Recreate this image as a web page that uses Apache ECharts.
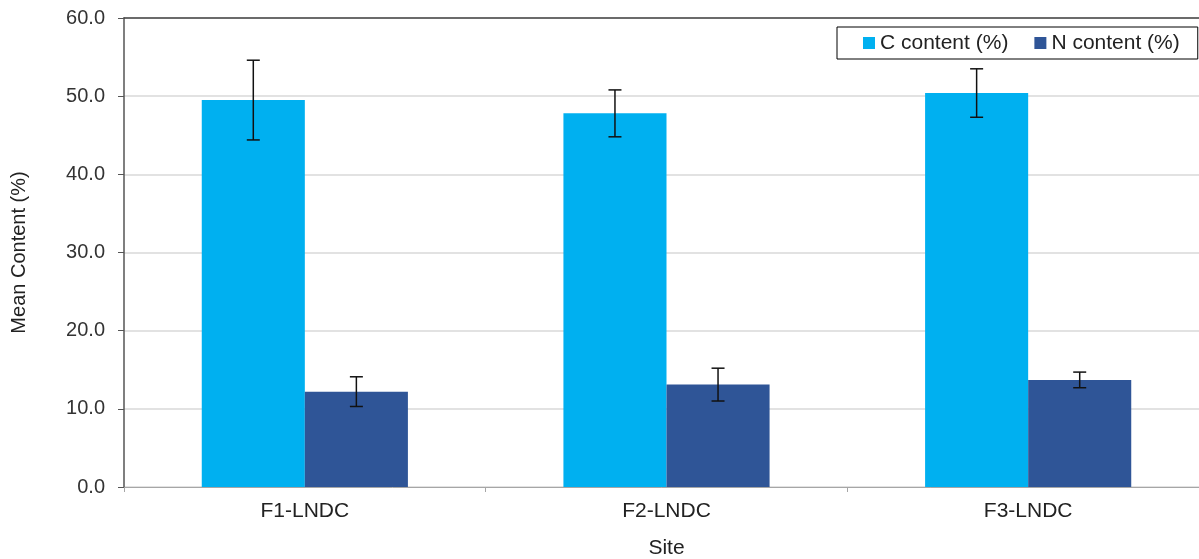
<!DOCTYPE html>
<html>
<head>
<meta charset="utf-8">
<script src="https://cdn.jsdelivr.net/npm/echarts@6/dist/echarts.min.js"></script>
<style>html,body{margin:0;padding:0;background:#fff;}#chart{width:1199px;height:559px;}</style>
</head>
<body>
<div id="chart"></div>
<script>
const categories = ['F1-LNDC', 'F2-LNDC', 'F3-LNDC'];
const cContent = [49.5, 47.8, 50.4];
const cError = [5.1, 3.0, 3.1];
const nContent = [12.2, 13.1, 13.7];
const nError = [1.9, 2.1, 1.0];
const yTicks = [0, 10, 20, 30, 40, 50, 60];

const FONT = 'Liberation Sans, Arial, sans-serif';
const GAP = 0.43;
function errorSeries(name, values, errors, sign) {
  return {
    type: 'custom',
    name: name + ' error',
    z: 10,
    silent: true,
    data: values.map((v, i) => [i, v - errors[i], v + errors[i]]),
    renderItem: function (params, api) {
      const idx = api.value(0);
      const lo = api.coord([idx, api.value(1)]);
      const hi = api.coord([idx, api.value(2)]);
      const band = api.size([1, 0])[0];
      const barW = band * (1 - GAP) / 2;
      const x = lo[0] + sign * barW / 2;
      const cap = 6.5;
      const style = { stroke: '#111', lineWidth: 1.5 };
      return {
        type: 'group',
        children: [
          { type: 'line', shape: { x1: x, y1: hi[1], x2: x, y2: lo[1] }, style: style },
          { type: 'line', shape: { x1: x - cap, y1: hi[1], x2: x + cap, y2: hi[1] }, style: style },
          { type: 'line', shape: { x1: x - cap, y1: lo[1], x2: x + cap, y2: lo[1] }, style: style }
        ]
      };
    },
    encode: { x: 0, y: [1, 2] }
  };
}

const chart = echarts.init(document.getElementById('chart'), null, { renderer: 'canvas' });
chart.setOption({
  animation: false,
  textStyle: { fontFamily: FONT },
  grid: { left: 124, top: 18, width: 1085, height: 469, containLabel: false, outerBoundsMode: 'none' },
  legend: {
    data: ['C content (%)', 'N content (%)'],
    left: 837, top: 27,
    padding: [5, 18, 5, 26],
    itemGap: 26,
    itemWidth: 12, itemHeight: 12,
    icon: 'rect',
    borderColor: '#000', borderWidth: 1,
    textStyle: { fontSize: 21, lineHeight: 22, color: '#222', fontFamily: FONT }
  },
  xAxis: [{
    type: 'category',
    data: categories,
    name: 'Site',
    nameLocation: 'middle',
    nameGap: 51,
    nameTextStyle: { fontSize: 21, color: '#222', fontFamily: FONT },
    axisLine: { lineStyle: { color: '#a6a6a6', width: 1 } },
    axisTick: { show: true, length: 5, lineStyle: { color: '#a6a6a6' } },
    axisLabel: { fontSize: 21, color: '#222', margin: 14, fontFamily: FONT }
  }, {
    type: 'category',
    data: categories,
    position: 'top',
    axisLine: { show: true, lineStyle: { color: '#444', width: 1.5 } },
    axisTick: { show: false },
    axisLabel: { show: false }
  }],
  yAxis: {
    type: 'value',
    min: yTicks[0], max: yTicks[yTicks.length - 1], interval: 10,
    name: 'Mean Content (%)',
    nameLocation: 'middle',
    nameGap: 95,
    nameTextStyle: { fontSize: 20, color: '#222', fontFamily: FONT },
    axisLine: { show: true, lineStyle: { color: '#555', width: 1.5 } },
    axisTick: { show: true, length: 6, lineStyle: { color: '#555' } },
    axisLabel: { fontSize: 20, color: '#333', margin: 19, fontFamily: FONT, formatter: v => v.toFixed(1) },
    splitLine: { show: true, lineStyle: { color: '#d9d9d9', width: 1.5 } }
  },
  series: [
    {
      name: 'C content (%)', type: 'bar', data: cContent,
      barGap: '0%', barCategoryGap: (GAP * 100) + '%',
      itemStyle: { color: '#00b0f0' }
    },
    {
      name: 'N content (%)', type: 'bar', data: nContent,
      barGap: '0%', barCategoryGap: (GAP * 100) + '%',
      itemStyle: { color: '#2f5597' }
    },
    errorSeries('C', cContent, cError, -1),
    errorSeries('N', nContent, nError, 1)
  ]
});
</script>
</body>
</html>
